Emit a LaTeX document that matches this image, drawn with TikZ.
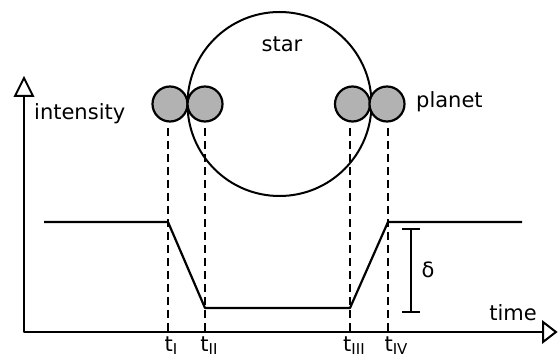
\documentclass[tikz,border=0pt]{standalone}
\usepackage{fontspec}
\setmainfont{DejaVu Sans}
\newcommand{\tsub}[1]{t\raisebox{-3pt}{\fontsize{15}{15}\selectfont #1}}
\begin{document}
\begin{tikzpicture}[x=1pt,y=-1pt,
  line/.style={line width=2.2pt, line join=round},
  dashline/.style={line width=2pt, dash pattern=on 8pt off 5pt},
  planetnode/.style={circle, draw, line width=2.2pt, fill=black!30, minimum size=35pt, inner sep=0pt},
  starnode/.style={circle, draw, line width=2pt, minimum size=184pt, inner sep=0pt},
  lbl/.style={font=\fontsize{21}{21}\selectfont, inner sep=0pt},
  tip/.style={line width=2pt, line join=miter, fill=white}]
\useasboundingbox (0,0) rectangle (558,358);
% star and planets
\node[starnode] (star) at (279.5,104) {};
\node[planetnode] (p1) at (170,104) {};
\node[planetnode] (p2) at (205,104) {};
\node[planetnode] (p3) at (352.5,104) {};
\node[planetnode] (p4) at (387,104) {};
\node[lbl] (starlbl) at (282,44) {star};
\node[lbl, anchor=west] (planetlbl) at (416,102) {planet};
% axes
\coordinate (origin) at (24,332);
\coordinate (ybase) at (24,96);
\coordinate (xbase) at (543,332);
\draw[line] (ybase) -- (origin) -- (xbase);
\draw[tip] (24,78) -- (15,96) -- (33,96) -- cycle;
\draw[tip] (556,332) -- (543,322) -- (543,342) -- cycle;
\node[lbl, anchor=west] (ilbl) at (34,114) {intensity};
\node[lbl, anchor=east] (tlbl) at (537,313) {time};
% light curve
\coordinate (c0) at (44,222);
\coordinate (c1) at (168,222);
\coordinate (c2) at (205,308);
\coordinate (c3) at (350,308);
\coordinate (c4) at (388,222);
\coordinate (c5) at (522,222);
\draw[line] (c0) -- (c1) -- (c2) -- (c3) -- (c4) -- (c5);
% dashed lines
\coordinate (d1t) at (168,128); \coordinate (d1b) at (168,332);
\coordinate (d2t) at (205,128); \coordinate (d2b) at (205,332);
\coordinate (d3t) at (350,128); \coordinate (d3b) at (350,332);
\coordinate (d4t) at (388,128); \coordinate (d4b) at (388,332);
\draw[dashline] (d1t) -- (d1b);
\draw[dashline] (d2t) -- (d2b);
\draw[dashline] (d3t) -- (d3b);
\draw[dashline] (d4t) -- (d4b);
% time labels
\node[lbl, anchor=base] (t1) at (171,352) {\tsub{I}};
\node[lbl, anchor=base] (t2) at (209,352) {\tsub{II}};
\node[lbl, anchor=base] (t3) at (354,352) {\tsub{III}};
\node[lbl, anchor=base] (t4) at (396,352) {\tsub{IV}};
% delta bracket
\coordinate (dtop) at (411,229);
\coordinate (dbot) at (411,312);
\draw[line] (dtop) -- (dbot);
\draw[line] ([xshift=-9pt]dtop) -- ([xshift=9pt]dtop);
\draw[line] ([xshift=-9pt]dbot) -- ([xshift=9pt]dbot);
\node[lbl] (delta) at (428,270) {δ};
\end{tikzpicture}
\end{document}
